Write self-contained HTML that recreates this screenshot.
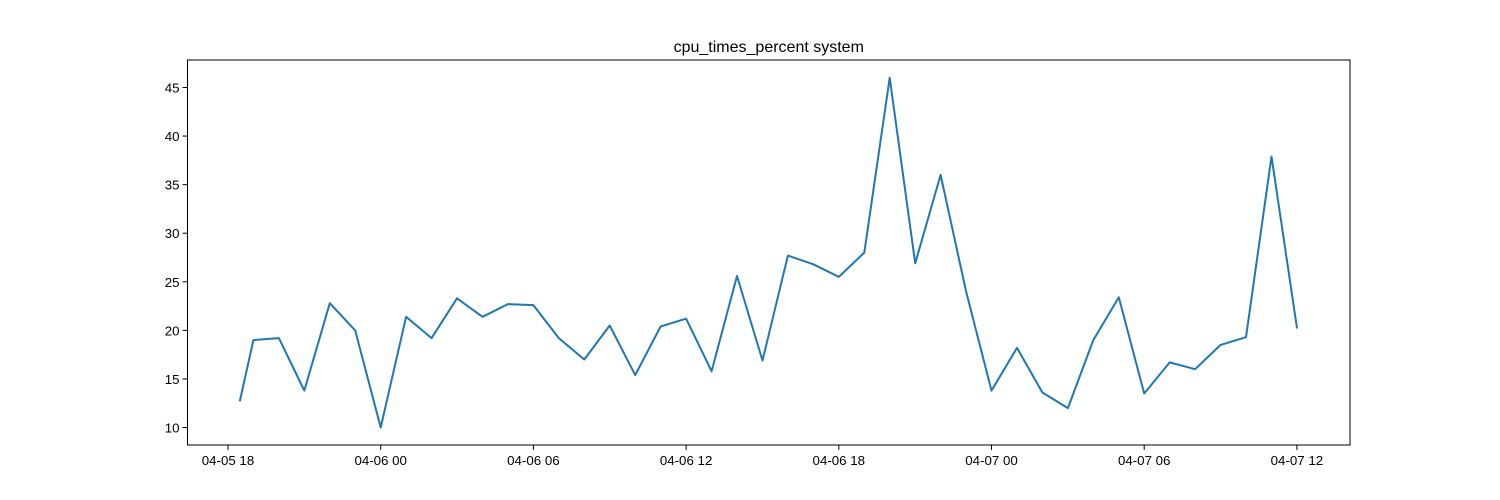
<!DOCTYPE html>
<html><head><meta charset="utf-8">
<style>
html,body{margin:0;padding:0;background:#fff;}
svg{display:block;font-family:"Liberation Sans","DejaVu Sans",sans-serif;}
</style></head>
<body>
<svg id="chart" width="1500" height="500" xmlns="http://www.w3.org/2000/svg">
<rect width="1500" height="500" fill="#fff"/>
<text x="768.75" y="52" text-anchor="middle" font-size="16" fill="#000">cpu_times_percent system</text>
<g id="ticks"></g>
<path id="line" fill="none" stroke="#1f77b4" stroke-width="2" stroke-linejoin="round" stroke-linecap="square"/>
<rect x="187.5" y="60" width="1162.5" height="385" fill="none" stroke="#000" stroke-width="1"/>
</svg>
<script>
// hours offset from 04-05 18:00
const hours = [0.47,1,2,3,4,5,6,7,8,9,10,11,12,13,14,15,16,17,18,19,20,21,22,23,24,25,26,27,28,29,30,31,32,33,34,35,36,37,38,39,40,41,42];
const values = [12.8,19.0,19.2,13.8,22.8,20.0,10.0,21.4,19.2,23.3,21.4,22.7,22.6,19.2,17.0,20.5,15.4,20.4,21.2,15.8,25.6,16.9,27.7,26.8,25.5,28.0,46.0,26.9,36.0,24.0,13.8,18.2,13.6,12.0,19.0,23.4,13.5,16.7,16.0,18.5,19.3,37.9,20.3];
const xTickHours = [0,6,12,18,24,30,36,42];
const xTickLabels = ["04-05 18","04-06 00","04-06 06","04-06 12","04-06 18","04-07 00","04-07 06","04-07 12"];
const yTicks = [10,15,20,25,30,35,40,45];

const L=187.5,R=1350,T=60,B=445;
const xMin=-1.591,xMax=44.086,yMin=8.2,yMax=47.83;
function sx(h){return L+(h-xMin)/(xMax-xMin)*(R-L);}
function sy(v){return B-(v-yMin)/(yMax-yMin)*(B-T);}
const NS="http://www.w3.org/2000/svg";
const g=document.getElementById('ticks');
function mk(tag,attrs){const e=document.createElementNS(NS,tag);for(const k in attrs)e.setAttribute(k,attrs[k]);return e;}
xTickHours.forEach((h,i)=>{
  const x=sx(h);
  const t=mk('line',{x1:x,x2:x,y1:B,y2:B+4.9,stroke:'#000','stroke-width':1});
  
  
  g.appendChild(t);
  const l=mk('text',{x:x,y:B+20,'text-anchor':'middle','font-size':'13.3',fill:'#000'});
  
  
  l.textContent=xTickLabels[i];g.appendChild(l);
});
yTicks.forEach(v=>{
  const y=sy(v);
  const t=mk('line',{x1:L-4.9,x2:L,y1:y,y2:y,stroke:'#000','stroke-width':1});
  
  
  g.appendChild(t);
  const l=mk('text',{x:L-8,y:y+5,'text-anchor':'end','font-size':'13.3',fill:'#000'});
  
  
  l.textContent=v;g.appendChild(l);
});
document.getElementById('line').setAttribute('d',hours.map((h,i)=>(i?'L':'M')+sx(h).toFixed(1)+','+sy(values[i]).toFixed(1)).join(''));
</script>
</body></html>
